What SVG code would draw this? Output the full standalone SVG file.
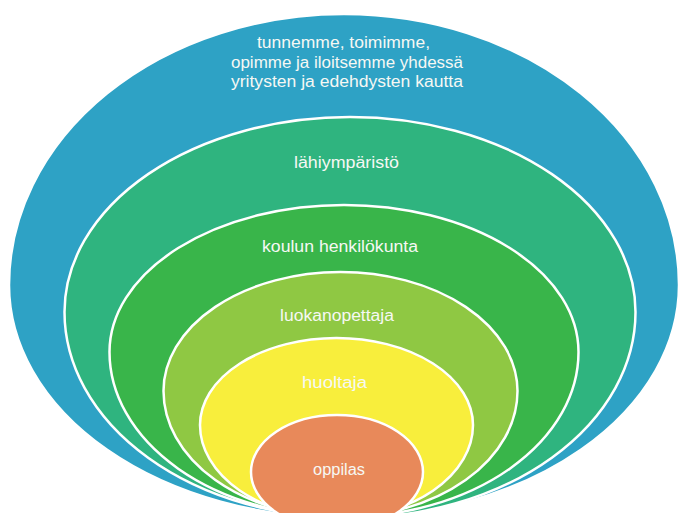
<svg xmlns="http://www.w3.org/2000/svg" width="680" height="513" viewBox="0 0 680 513">
<style>
.ring{stroke:#ffffff;stroke-width:2.5}
.lbl{font-family:"Liberation Sans","DejaVu Sans",sans-serif;font-size:16px;fill:#f6f8f4;text-anchor:middle}
</style>
<rect x="0" y="0" width="680" height="513" fill="#ffffff"/>
<g id="ring-outer">
<path class="ring" fill="#2ea2c5" d="M9,285 A335,271 0 0 1 679,285 A335,233 0 0 1 9,285 Z"/>
<text class="lbl" x="343.5" y="48" textLength="173" lengthAdjust="spacingAndGlyphs">tunnemme, toimimme,</text>
<text class="lbl" x="347" y="68" textLength="232" lengthAdjust="spacingAndGlyphs">opimme ja iloitsemme yhdessä</text>
<text class="lbl" x="347" y="87" textLength="232" lengthAdjust="spacingAndGlyphs">yritysten ja edehdysten kautta</text>
</g>
<g id="ring-lahiymparisto">
<path class="ring" fill="#2fb47f" d="M64.5,312 A285.5,195 0 0 1 635.5,312 A285.5,206 0 0 1 64.5,312 Z"/>
<text class="lbl" x="346.5" y="168" textLength="105" lengthAdjust="spacingAndGlyphs">lähiympäristö</text>
</g>
<g id="ring-henkilokunta">
<path class="ring" fill="#39b54a" d="M109.5,352 A234.5,147 0 0 1 578.5,352 A234.5,165 0 0 1 109.5,352 Z"/>
<text class="lbl" x="340" y="252" textLength="156" lengthAdjust="spacingAndGlyphs">koulun henkilökunta</text>
</g>
<g id="ring-luokanopettaja">
<path class="ring" fill="#8fc843" d="M163.5,391 A177,119 0 0 1 517.5,391 A177,126 0 0 1 163.5,391 Z"/>
<text class="lbl" x="337" y="321" textLength="114" lengthAdjust="spacingAndGlyphs">luokanopettaja</text>
</g>
<g id="ring-huoltaja">
<path class="ring" fill="#f8ee3c" d="M200,425 A136.5,87 0 0 1 473,425 A136.5,93 0 0 1 200,425 Z"/>
<text class="lbl" x="334.5" y="388" textLength="65" lengthAdjust="spacingAndGlyphs">huoltaja</text>
</g>
<g id="ring-oppilas">
<path class="ring" fill="#e8895a" d="M251,472 A86,57 0 0 1 423,472 A86,57 0 0 1 251,472 Z"/>
<text class="lbl" x="339" y="475" textLength="52" lengthAdjust="spacingAndGlyphs">oppilas</text>
</g>
<g id="connectors"/>
</svg>
